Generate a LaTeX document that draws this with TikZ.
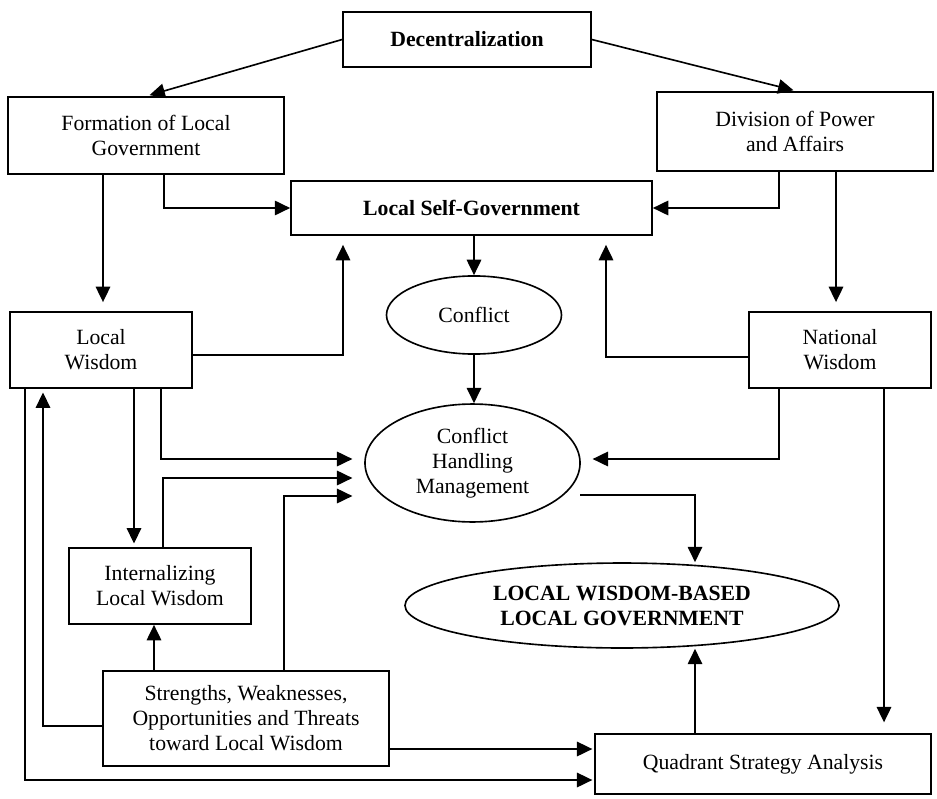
\documentclass[tikz,border=0pt]{standalone}
\usepackage{fontspec}
\setmainfont{Liberation Serif}
\usetikzlibrary{arrows.meta,shapes.geometric}
\definecolor{ink}{HTML}{000000}

\begin{document}
\begin{tikzpicture}[x=.552pt,y=-.552pt,
  box/.style={draw=ink,line width=.9pt,align=center,inner sep=0pt,font=\fontsize{12}{13.8}\selectfont},
  oval/.style={box,ellipse},
  arr/.style={-{Triangle[length=8.5pt,width=8pt]},draw=ink,line width=.9pt},
  gap/.style={shorten >=#1}]
\useasboundingbox (0,0) rectangle (937,798);
\node[box,minimum width=136.9pt,minimum height=30.4pt] (dec) at (467,39.5){\textbf{Decentralization}};
\node[box,minimum width=152.4pt,minimum height=42.5pt] (form) at (146,135.5){Formation of Local\\Government};
\node[box,minimum width=152.4pt,minimum height=43.6pt] (div) at (795,131.5){Division of Power\\and Affairs};
\node[box,minimum width=199.3pt,minimum height=29.8pt] (lsg) at (471.5,208){\textbf{Local Self-Government}};
\node[oval,minimum width=96.6pt,minimum height=43.1pt] (con) at (474,315){Conflict};
\node[box,minimum width=100.5pt,minimum height=42pt] (lw) at (101,350){Local\\Wisdom};
\node[box,minimum width=100.5pt,minimum height=42pt] (nw) at (840,350){National\\Wisdom};
\node[oval,minimum width=118.7pt,minimum height=65.1pt] (chm) at (472.5,463){Conflict\\Handling\\Management};
\node[oval,minimum width=239.6pt,minimum height=46.9pt] (lwb) at (622,605.5){\textbf{LOCAL WISDOM-BASED}\\\textbf{LOCAL GOVERNMENT}};
\node[box,minimum width=100.5pt,minimum height=42pt] (int) at (160,586){Internalizing\\Local Wisdom};
\node[box,minimum width=157.9pt,minimum height=52.4pt] (swot) at (246,718.5){Strengths, Weaknesses,\\Opportunities and Threats\\toward Local Wisdom};
\node[box,minimum width=185.5pt,minimum height=33.1pt] (qsa) at (763,764){Quadrant Strategy Analysis};
\coordinate (chmout) at (580,495);
% top part
\draw[arr,gap=2pt] (dec.west) -- (form.north -| 146,0);\draw[arr,gap=2pt] (dec.east) -- (div.north -| 797,0);
\draw[arr,gap=5pt] (form.south -| 103,0) -- (lw.north -| 103,0);\draw[arr] (form.south -| 164,0) |- (lsg.west);
\draw[arr] (div.south -| 779,0) |- (lsg.east);\draw[arr,gap=5pt] (div.south -| 836,0) -- (nw.north -| 836,0);
\draw[arr] (lsg.south -| con.north) -- (con.north);
\draw[arr,gap=5pt] (lw.east |- 0,355) -| (lsg.south -| 343,0);\draw[arr,gap=5pt] (nw.west |- 0,357) -| (lsg.south -| 606,0);
% middle part
\draw[arr] (con.south) -- (con.south |- chm.north);
\draw[arr,gap=6.5pt] (nw.south -| 779,0) |- (chm.east |- 0,459);\draw[arr,gap=6pt] (nw.south -| 884,0) -- (qsa.north -| 884,0);
\draw[arr] (chmout) -| (lwb.north -| 695,0);
\draw[arr,gap=6.5pt] (lw.south -| 161,0) |- (chm.west |- 0,459);\draw[arr,gap=2pt] (lw.south -| 134,0) -- (int.north -| 134,0);
\draw[arr,gap=6.5pt] (int.north -| 163,0) |- (chm.west |- 0,478);
% bottom part
\draw[arr] (swot.north -| 154,0) -- (int.south -| 154,0);\draw[arr,gap=6.5pt] (swot.north -| 284,0) |- (chm.west |- 0,496);
\draw[arr,gap=2pt] (swot.west |- 0,726) -| (lw.south -| 43,0);\draw[arr,gap=1pt] (lw.south -| 25,0) |- (qsa.west |- 0,780);
\draw[arr,gap=1pt] (swot.east |- 0,749) -- (qsa.west |- 0,749);\draw[arr] (qsa.north -| 695,0) -- (lwb.south -| 695,0);
\end{tikzpicture}
\end{document}
